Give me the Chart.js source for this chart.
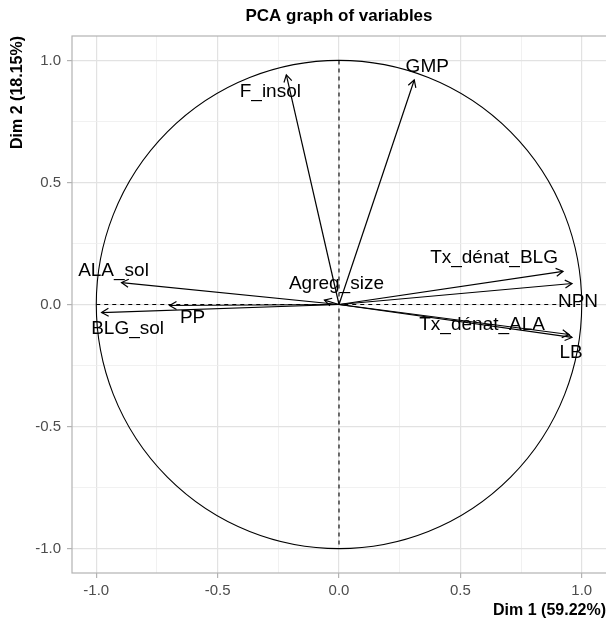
<!DOCTYPE html>
<html>
<head>
<meta charset="utf-8">
<script src="https://cdn.jsdelivr.net/npm/chart.js@4.4.0/dist/chart.umd.min.js"></script>
<style>
  html, body { margin: 0; padding: 0; background: #fff; }
  #wrap { width: 606px; height: 625px; }
</style>
</head>
<body>
<div id="wrap"><canvas id="pca"></canvas></div>
<script>
const variables = ["F_insol", "GMP", "ALA_sol", "BLG_sol", "PP", "Agreg_size", "Tx_dénat_BLG", "NPN", "Tx_dénat_ALA", "LB"];
const dim1 = [-0.217, 0.310, -0.896, -0.978, -0.698, -0.060, 0.923, 0.960, 0.948, 0.960];
const dim2 = [0.941, 0.920, 0.090, -0.033, -0.004, 0.018, 0.136, 0.086, -0.123, -0.135];
const gridValues = [-1, -0.75, -0.5, -0.25, 0, 0.25, 0.5, 0.75, 1];
const tickLabels = ["-1.0", "", "-0.5", "", "0.0", "", "0.5", "", "1.0"];
const title = "PCA graph of variables";
const xTitle = "Dim 1 (59.22%)";
const yTitle = "Dim 2 (18.15%)";

// where each label sits relative to its arrow tip (px)
const labelShift = [[-16, 17], [13, -13], [-8, -12], [26, 16], [23, 12], [12, -16], [-69, -14], [6, 18], [-87, -10], [-1, 15]];

const FONT = "'Liberation Sans', Arial, sans-serif";

const datasets = variables.map((name, i) => ({
  label: name,
  data: [{ x: 0, y: 0 }, { x: dim1[i], y: dim2[i] }],
  showLine: true,
  borderColor: "#000",
  borderWidth: 1.2,
  pointRadius: 0,
  fill: false
}));

const isMajor = (ctx) => ctx.index % 2 === 0;

const gridOpts = {
  color: (ctx) => (isMajor(ctx) ? "#e2e2e2" : "#eeeeee"),
  lineWidth: (ctx) => (isMajor(ctx) ? 1.2 : 0.8),
  tickColor: (ctx) => (isMajor(ctx) ? "#b3b3b3" : "rgba(0,0,0,0)"),
  tickLength: 5
};

const pcaDecor = {
  id: "pcaDecor",
  beforeDatasetsDraw(chart) {
    const { ctx, chartArea, scales } = chart;
    const x = scales.x, y = scales.y;
    const cx = x.getPixelForValue(0), cy = y.getPixelForValue(0);
    const rx = x.getPixelForValue(1) - cx, ry = cy - y.getPixelForValue(1);
    ctx.save();
    ctx.beginPath();
    ctx.rect(chartArea.left, chartArea.top, chartArea.right - chartArea.left, chartArea.bottom - chartArea.top);
    ctx.clip();
    ctx.strokeStyle = "#000";
    ctx.lineWidth = 1.1;
    ctx.beginPath();
    ctx.ellipse(cx, cy, rx, ry, 0, 0, Math.PI * 2);
    ctx.stroke();
    ctx.setLineDash([4, 4]);
    ctx.beginPath();
    ctx.moveTo(x.getPixelForValue(-1), cy);
    ctx.lineTo(x.getPixelForValue(1), cy);
    ctx.moveTo(cx, y.getPixelForValue(1));
    ctx.lineTo(cx, y.getPixelForValue(-1));
    ctx.stroke();
    ctx.restore();
  },
  afterDatasetsDraw(chart) {
    const { ctx, chartArea } = chart;
    ctx.save();
    // arrow heads
    ctx.strokeStyle = "#000";
    ctx.lineWidth = 1.2;
    chart.data.datasets.forEach((ds, i) => {
      const pts = chart.getDatasetMeta(i).data;
      const p0 = pts[0], p1 = pts[1];
      const ang = Math.atan2(p1.y - p0.y, p1.x - p0.x);
      const len = 8, spread = Math.PI / 6;
      ctx.beginPath();
      ctx.moveTo(p1.x - len * Math.cos(ang - spread), p1.y - len * Math.sin(ang - spread));
      ctx.lineTo(p1.x, p1.y);
      ctx.lineTo(p1.x - len * Math.cos(ang + spread), p1.y - len * Math.sin(ang + spread));
      ctx.stroke();
    });
    // variable labels
    ctx.fillStyle = "#000";
    ctx.font = "19px " + FONT;
    ctx.textAlign = "center";
    ctx.textBaseline = "middle";
    chart.data.datasets.forEach((ds, i) => {
      const tip = chart.getDatasetMeta(i).data[1];
      ctx.fillText(ds.label, tip.x + labelShift[i][0], tip.y + labelShift[i][1]);
    });
    // panel border
    ctx.strokeStyle = "#b3b3b3";
    ctx.lineWidth = 1.2;
    ctx.strokeRect(chartArea.left, chartArea.top, chartArea.right - chartArea.left + 2, chartArea.bottom - chartArea.top);
    // titles
    ctx.font = "bold 17px " + FONT;
    ctx.fillText(title, 339, 16);
    ctx.font = "bold 16px " + FONT;
    ctx.textAlign = "right";
    ctx.fillText(xTitle, 606, 611);
    ctx.translate(18, chartArea.top);
    ctx.rotate(-Math.PI / 2);
    ctx.fillText(yTitle, 0, 0);
    ctx.restore();
  }
};

new Chart(document.getElementById("pca"), {
  type: "scatter",
  data: { datasets },
  options: {
    responsive: true,
    maintainAspectRatio: false,
    animation: false,
    layout: { padding: { top: 36, left: 0, right: 0, bottom: 0 } },
    plugins: { legend: { display: false }, tooltip: { enabled: false } },
    scales: {
      x: {
        type: "linear",
        min: -1.1,
        max: 1.1,
        afterBuildTicks: (axis) => { axis.ticks = gridValues.map((v) => ({ value: v })); },
        afterFit: (axis) => { axis.height = 52; },
        grid: gridOpts,
        border: { display: false },
        ticks: {
          autoSkip: false,
          maxRotation: 0,
          padding: 4,
          color: "#4d4d4d",
          font: { family: FONT, size: 15 },
          callback: (v, i) => tickLabels[i]
        }
      },
      y: {
        type: "linear",
        min: -1.1,
        max: 1.1,
        afterBuildTicks: (axis) => { axis.ticks = gridValues.map((v) => ({ value: v })); },
        afterFit: (axis) => { axis.width = 72; },
        grid: gridOpts,
        border: { display: false },
        ticks: {
          autoSkip: false,
          padding: 6,
          color: "#4d4d4d",
          font: { family: FONT, size: 15 },
          callback: (v, i) => tickLabels[i]
        }
      }
    }
  },
  plugins: [pcaDecor]
});
</script>
</body>
</html>
